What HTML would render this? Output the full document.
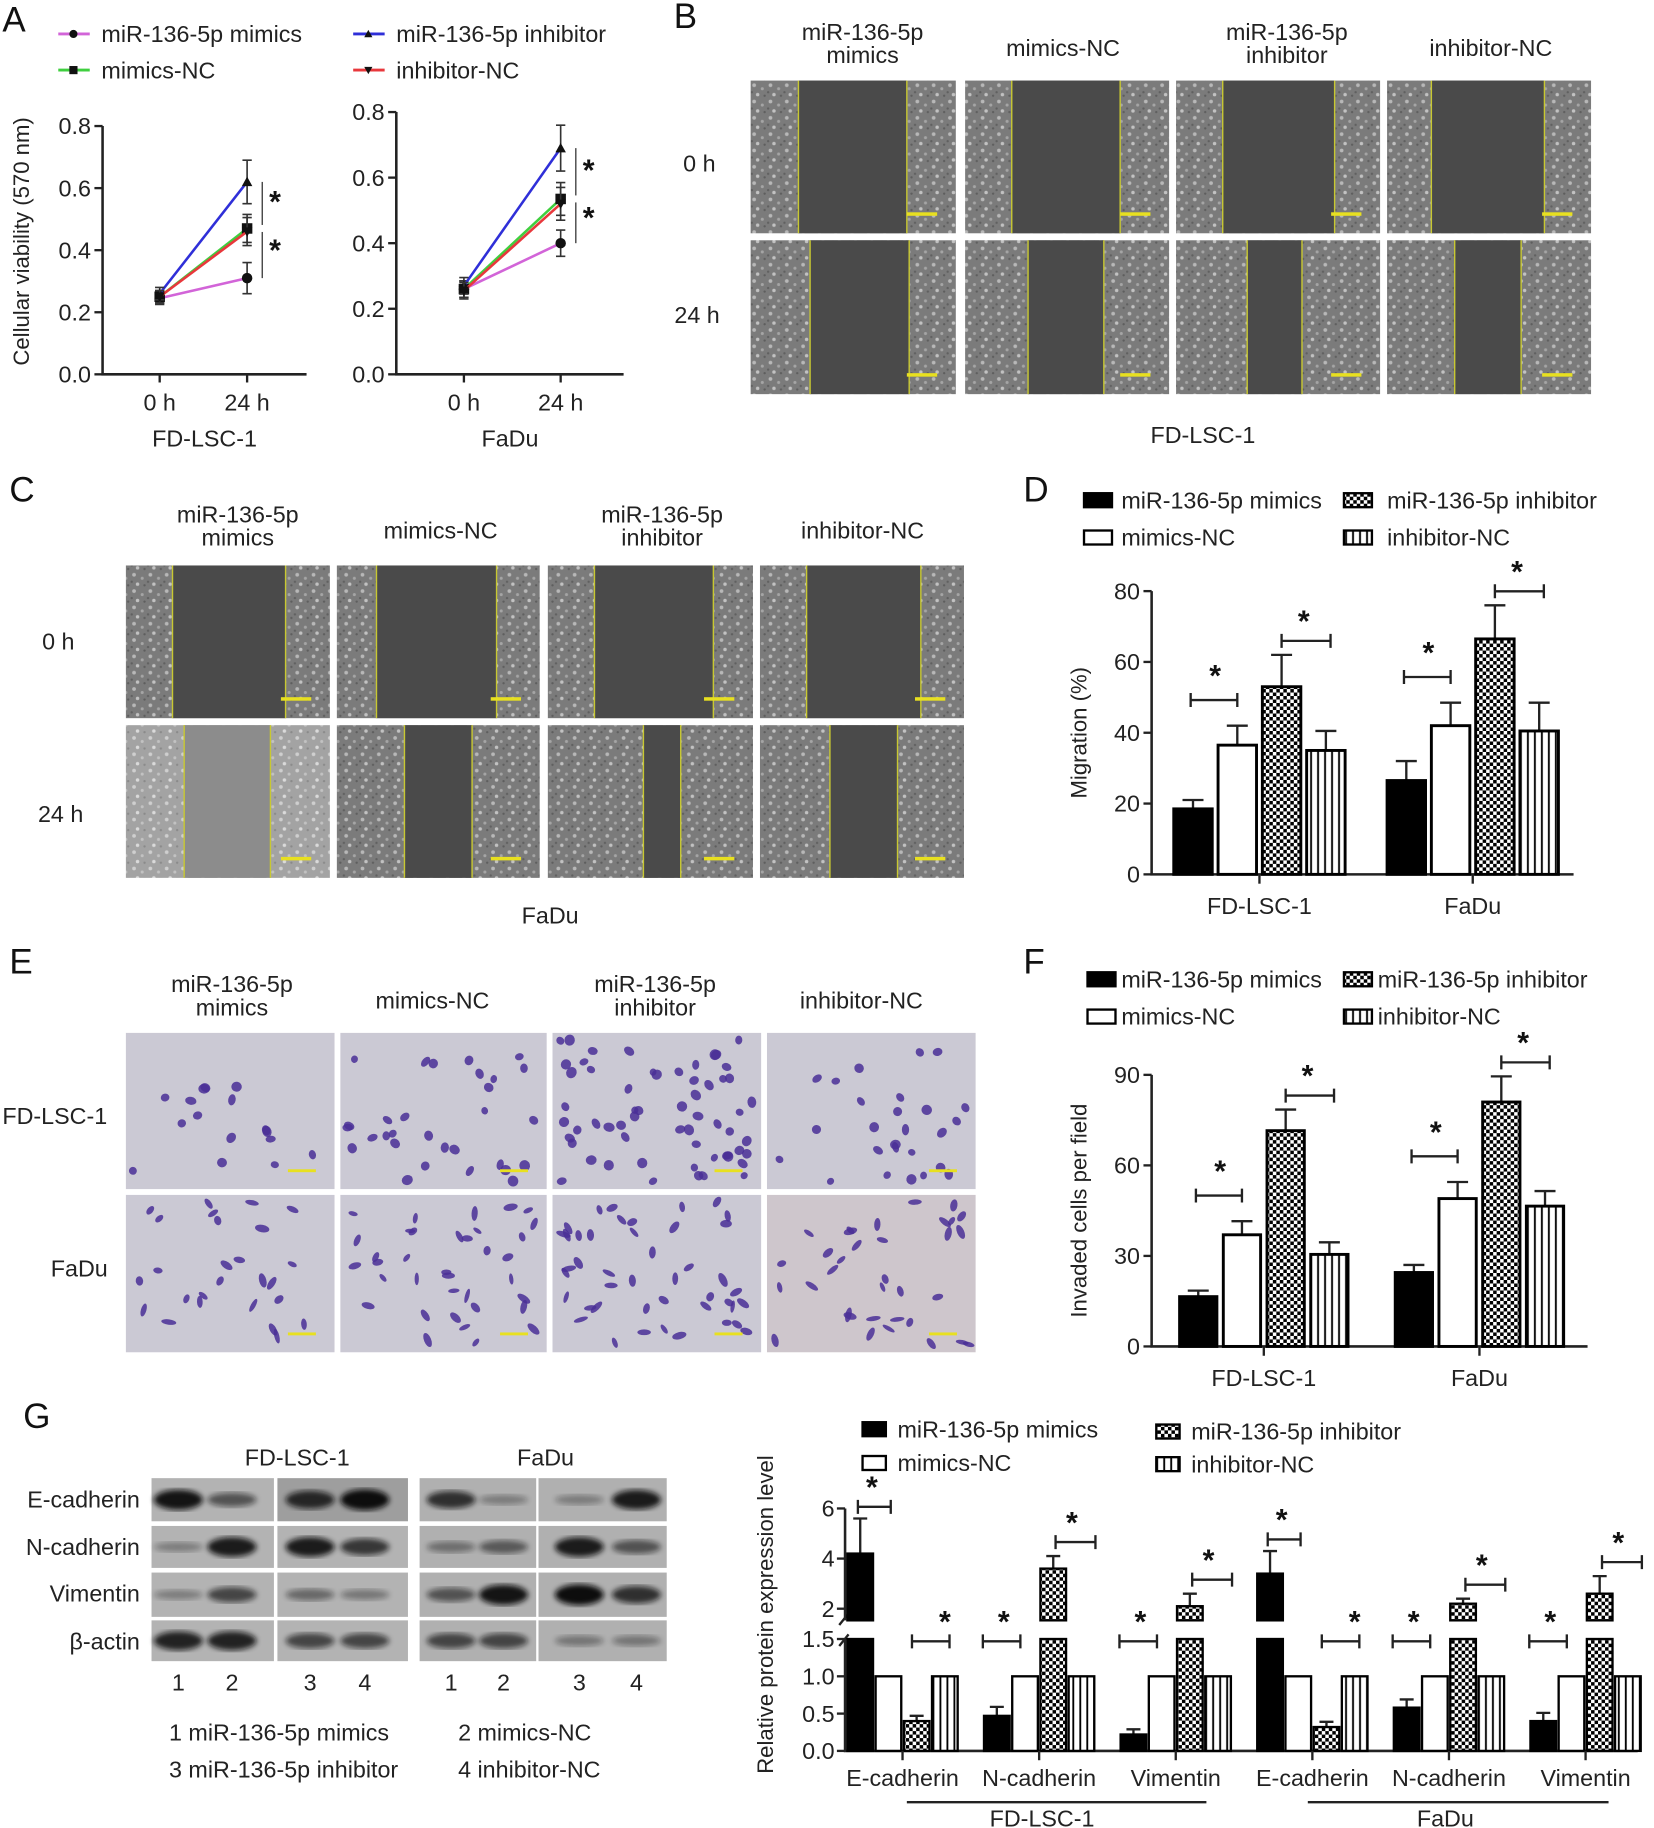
<!DOCTYPE html>
<html><head><meta charset="utf-8">
<style>
html,body{margin:0;padding:0;background:#fff;}
svg{display:block;font-family:"Liberation Sans",Arial,sans-serif;}
</style></head>
<body>
<svg id="fig" xmlns="http://www.w3.org/2000/svg" width="1654" height="1828" viewBox="0 0 1419 1568">
<defs>
  <pattern id="checker" width="6" height="6" patternUnits="userSpaceOnUse">
    <rect width="6" height="6" fill="#fff"/><rect width="3" height="3" fill="#000"/><rect x="3" y="3" width="3" height="3" fill="#000"/>
  </pattern>
  <pattern id="vstripe" width="6" height="6" patternUnits="userSpaceOnUse">
    <rect width="6" height="6" fill="#fff"/><rect x="2" width="1.6" height="6" fill="#000"/>
  </pattern>
  <pattern id="speckle" width="14" height="14" patternUnits="userSpaceOnUse">
    <rect width="14" height="14" fill="#7b7b7b"/>
    <circle cx="3" cy="3" r="1.6" fill="#b8b8b8"/><circle cx="10" cy="6" r="1.3" fill="#a5a5a5"/>
    <circle cx="6" cy="11" r="1.5" fill="#c2c2c2"/><circle cx="12" cy="12" r="1" fill="#5e5e5e"/>
    <circle cx="1" cy="9" r="1" fill="#606060"/>
  </pattern>
  <pattern id="speckleLight" width="14" height="14" patternUnits="userSpaceOnUse">
    <rect width="14" height="14" fill="#a3a3a3"/>
    <circle cx="3" cy="3" r="1.6" fill="#cfcfcf"/><circle cx="10" cy="6" r="1.3" fill="#c2c2c2"/>
    <circle cx="6" cy="11" r="1.5" fill="#dadada"/><circle cx="12" cy="12" r="1" fill="#8a8a8a"/>
  </pattern>
  <filter id="blur2"><feGaussianBlur stdDeviation="2.2"/></filter>
</defs>
<g id="root"></g>
</svg>
<script>
// ---------- Chart data ----------
// Panel A (CCK-8 viability)
const timeCats = ['0 h', '24 h'];
const aTicks = [0.0, 0.2, 0.4, 0.6, 0.8];
const aSeriesNames = ['miR-136-5p mimics', 'mimics-NC', 'miR-136-5p inhibitor', 'inhibitor-NC'];
const fdMimics = [0.245, 0.31];
const fdMimicsNC = [0.25, 0.47];
const fdInhibitor = [0.26, 0.62];
const fdInhibitorNC = [0.25, 0.46];
const fdErr = [[0.02, 0.05], [0.02, 0.045], [0.02, 0.07], [0.02, 0.045]];
const faMimics = [0.26, 0.40];
const faMimicsNC = [0.26, 0.535];
const faInhibitor = [0.27, 0.69];
const faInhibitorNC = [0.255, 0.52];
const faErr = [[0.025, 0.04], [0.025, 0.05], [0.025, 0.07], [0.025, 0.05]];
// Panel D (migration %)
const cellCats = ['FD-LSC-1', 'FaDu'];
const dTicks = [0, 20, 40, 60, 80];
const dMimics = [18.5, 26.5];
const dMimicsNC = [36.5, 42];
const dInhibitor = [53, 66.5];
const dInhibitorNC = [35, 40.5];
const dErr = [[2.5, 5.5], [5.5, 6.5], [9, 9.5], [5.5, 8]];
// Panel F (invaded cells)
const fTicks = [0, 30, 60, 90];
const fMimics = [16.5, 24.5];
const fMimicsNC = [37, 49];
const fInhibitor = [71.5, 81];
const fInhibitorNC = [30.5, 46.5];
const fErr = [[2, 2.5], [4.5, 5.5], [7, 8.5], [4, 5]];
// Panel G (protein expression)
const gCats = ['E-cadherin', 'N-cadherin', 'Vimentin', 'E-cadherin', 'N-cadherin', 'Vimentin'];
const gTicksLow = [0.0, 0.5, 1.0, 1.5];
const gTicksHigh = [2, 4, 6];
const gMimics = [4.2, 0.47, 0.22, 3.4, 0.58, 0.4];
const gMimicsNC = [1, 1, 1, 1, 1, 1];
const gInhibitor = [0.4, 3.6, 2.1, 0.32, 2.2, 2.6];
const gInhibitorNC = [1, 1, 1, 1, 1, 1];
const gErrM = [1.4, 0.12, 0.07, 0.9, 0.11, 0.11];
const gErrI = [0.07, 0.5, 0.5, 0.07, 0.2, 0.7];

const NS = 'http://www.w3.org/2000/svg';
const root = document.getElementById('root');
function mk(tag, attrs, parent, text) {
  const e = document.createElementNS(NS, tag);
  for (const k in attrs) e.setAttribute(k, attrs[k]);
  if (text !== undefined) e.textContent = text;
  (parent || root).appendChild(e);
  return e;
}
function txt(x, y, s, size, anchor, parent, extra) {
  const a = Object.assign({x: x, y: y, 'font-size': size, 'text-anchor': anchor || 'middle', fill: '#222'}, extra || {});
  return mk('text', a, parent, s);
}
function star(x, y, g) {
  const s = txt(x, y + 10, '*', 26, 'middle', g, {'font-weight': 'bold', fill: '#111'});
  
  
}
function hbracket(x1, x2, y, g) {
  const b = mk('path', {d: `M${x1},${y-6}V${y+6}M${x1},${y}H${x2}M${x2},${y-6}V${y+6}`, stroke: '#222', 'stroke-width': 2, fill: 'none'}, g);
  
  
}
function panelLetter(x, y, s) {
  const t = txt(x, y, s, 30, 'start', root, {fill: '#111'});
  
  
}

// ---------- Panel A ----------
panelLetter(2, 27, 'A');
const aColors = ['#d264d8', '#3fcf3f', '#2f2fd8', '#e8383c'];
const aMarkers = ['circle', 'square', 'tri', 'itri'];
function marker(kind, x, y, r, g) {
  let m;
  if (kind === 'circle') m = mk('circle', {cx: x, cy: y, r: r, fill: '#111'}, g);
  else if (kind === 'square') m = mk('rect', {x: x - r, y: y - r, width: 2 * r, height: 2 * r, fill: '#111'}, g);
  else if (kind === 'tri') m = mk('path', {d: `M${x},${y-r}L${x+r},${y+r*0.8}L${x-r},${y+r*0.8}Z`, fill: '#111'}, g);
  else m = mk('path', {d: `M${x},${y+r}L${x+r},${y-r*0.8}L${x-r},${y-r*0.8}Z`, fill: '#111'}, g);
  
  
}
const legA = mk('g', {});


[[50, 29], [50, 60], [303, 29], [303, 60]].forEach((p, i) => {
  const g = mk('g', {}, legA);
  
  
  mk('line', {x1: p[0], y1: p[1], x2: p[0] + 27, y2: p[1], stroke: aColors[i], 'stroke-width': 2.5}, g);
  marker(aMarkers[i], p[0] + 13, p[1], 3.5, g);
  txt(p[0] + 37, p[1] + 7, aSeriesNames[i], 20, 'start', g);
});

function lineChart(cfg) {
  const g = mk('g', {});
  
  
  const y = v => cfg.y0 - v / 0.8 * (cfg.y0 - cfg.yTop);
  const xs = [cfg.x0h, cfg.x24];
  const ax = mk('path', {d: `M${cfg.ax},${cfg.yTop}V${cfg.y0}H${cfg.axEnd}`, stroke: '#222', 'stroke-width': 2.2, fill: 'none'}, g);
  
  
  aTicks.forEach(t => {
    mk('line', {x1: cfg.ax - 7, x2: cfg.ax, y1: y(t), y2: y(t), stroke: '#222', 'stroke-width': 2}, g);
    const l = txt(cfg.ax - 10, y(t) + 7, t.toFixed(1), 20, 'end', g);
    
    
  });
  timeCats.forEach((c, i) => {
    mk('line', {x1: xs[i], x2: xs[i], y1: cfg.y0, y2: cfg.y0 + 7, stroke: '#222', 'stroke-width': 2}, g);
    const l = txt(xs[i], cfg.y0 + 31, c, 20, 'middle', g);
    
    
  });
  const title = txt((cfg.ax + cfg.axEnd) / 2, cfg.y0 + 62, cfg.title, 20, 'middle', g);
  
  
  cfg.series.forEach((s, si) => {
    const ln = mk('polyline', {points: s.map((v, i) => xs[i] + ',' + y(v)).join(' '), stroke: aColors[si], 'stroke-width': 2.2, fill: 'none'}, g);
    
    
    s.forEach((v, i) => {
      const e = cfg.err[si][i];
      const eb = mk('path', {d: `M${xs[i]},${y(v - e)}V${y(v + e)}M${xs[i]-4},${y(v+e)}H${xs[i]+4}M${xs[i]-4},${y(v-e)}H${xs[i]+4}`, stroke: '#333', 'stroke-width': 1.4, fill: 'none'}, g);
      
      
      marker(aMarkers[si], xs[i], y(v), 4.5, g);
    });
  });
  const top = cfg.series[2][1], mid = cfg.series[1][1], low = cfg.series[0][1];
  const sx = cfg.x24 + 13;
  mk('line', {x1: sx, x2: sx, y1: y(top), y2: y(mid) - 3, stroke: '#444', 'stroke-width': 1.2}, g);
  mk('line', {x1: sx, x2: sx, y1: y(mid) + 3, y2: y(low), stroke: '#444', 'stroke-width': 1.2}, g);
  star(sx + 11, (y(top) + y(mid)) / 2 - 4, g);
  star(sx + 11, (y(mid) + y(low)) / 2 - 4, g);
  return g;
}
lineChart({name: 'chart-a-fd-lsc-1', ax: 88, axEnd: 263, yTop: 108, y0: 321, x0h: 137, x24: 212, title: 'FD-LSC-1',
  series: [fdMimics, fdMimicsNC, fdInhibitor, fdInhibitorNC], err: fdErr});
lineChart({name: 'chart-a-fadu', ax: 340, axEnd: 535, yTop: 96, y0: 321, x0h: 398, x24: 481, title: 'FaDu',
  series: [faMimics, faMimicsNC, faInhibitor, faInhibitorNC], err: faErr});
const aYT = txt(0, 0, 'Cellular viability (570 nm)', 19, 'middle', root, {transform: 'translate(25,207) rotate(-90)'});



// ---------- photo helpers ----------
function scratch(x, y, w, h, gL, gR, opts) {
  const g = mk('g', {});
  
  
  mk('rect', {x: x, y: y, width: w, height: h, fill: opts.light ? 'url(#speckleLight)' : 'url(#speckle)'}, g);
  mk('rect', {x: gL, y: y, width: gR - gL, height: h, fill: opts.gap || '#4a4a4a'}, g);
  mk('line', {x1: gL, x2: gL, y1: y, y2: y + h, stroke: '#c8c832', 'stroke-width': 1.2}, g);
  mk('line', {x1: gR, x2: gR, y1: y, y2: y + h, stroke: '#c8c832', 'stroke-width': 1.2}, g);
  mk('rect', {x: x + w - 42, y: y + h - 18, width: 26, height: 3, fill: '#e8e020'}, g);
}
function colHeads(cols, y1, y2) {
  const heads = [['miR-136-5p', 'mimics'], ['mimics-NC'], ['miR-136-5p', 'inhibitor'], ['inhibitor-NC']];
  cols.forEach((c, i) => {
    const h = heads[i];
    if (h.length === 2) {
      txt(c, y1, h[0], 20, 'middle');
      const t = txt(c, y2, h[1], 20, 'middle');
      
      
    } else {
      const t = txt(c, (y1 + y2) / 2 + 4, h[0], 20, 'middle');
      
      
    }
  });
}

// ---------- Panel B ----------
panelLetter(578, 24, 'B');
colHeads([740, 912, 1104, 1279], 34, 54);
const bCols = [[644, 176], [828, 175], [1009, 175], [1190, 175]];
const b0 = [[685, 778], [868, 961], [1049, 1145], [1228, 1325]];
const b24 = [[695, 780], [882, 947], [1070, 1117], [1248, 1305]];
bCols.forEach((c, i) => { scratch(c[0], 69, c[1], 131, b0[i][0], b0[i][1], {}); scratch(c[0], 206, c[1], 132, b24[i][0], b24[i][1], {}); });
txt(600, 147, '0 h', 20, 'middle');
txt(598, 277, '24 h', 20, 'middle');
txt(1032, 380, 'FD-LSC-1', 20, 'middle');

// ---------- Panel C ----------
panelLetter(8, 430, 'C');
colHeads([204, 378, 568, 740], 448, 468);
const cCols = [[108, 175], [289, 174], [470, 176], [652, 175]];
const c0 = [[148, 245], [323, 426], [510, 612], [692, 790]];
const c24 = [[158, 232], [347, 405], [552, 584], [712, 770]];
cCols.forEach((c, i) => {
  scratch(c[0], 485, c[1], 131, c0[i][0], c0[i][1], {});
  scratch(c[0], 622, c[1], 131, c24[i][0], c24[i][1], i === 0 ? {light: true, gap: '#8c8c8c'} : {});
});
txt(50, 557, '0 h', 20, 'middle');
txt(52, 705, '24 h', 20, 'middle');
txt(472, 792, 'FaDu', 20, 'middle');

// ---------- Panel E (transwell) ----------
panelLetter(8, 835, 'E');
colHeads([199, 371, 562, 739], 851, 871);
let seed = 7;
function rnd() { seed = (seed * 16807) % 2147483647; return seed / 2147483647; }
const eCols = [[108, 179], [292, 177], [474, 179], [658, 179]];
const eCounts = [[16, 26], [30, 36], [60, 44], [26, 34]];
[[886, 134], [1025, 135]].forEach((r, ri) => {
  eCols.forEach((c, ci) => {
    const g = mk('g', {});
    
    
    mk('rect', {x: c[0], y: r[0], width: c[1], height: r[1], fill: ci === 3 && ri === 1 ? '#cec6cc' : '#cbc9d4'}, g);
    for (let k = 0; k < eCounts[ci][ri]; k++) {
      const cx = c[0] + 6 + rnd() * (c[1] - 12), cy = r[0] + 6 + rnd() * (r[1] - 12);
      const rx = ri ? 1.8 + rnd() * 1.5 : 2.8 + rnd() * 2, ry = ri ? 4 + rnd() * 2.5 : 3 + rnd() * 2;
      mk('ellipse', {cx: cx, cy: cy, rx: rx, ry: ry, fill: '#4a2f96', opacity: 0.85, transform: `rotate(${rnd() * 180} ${cx} ${cy})`}, g);
    }
    mk('rect', {x: c[0] + c[1] - 40, y: r[0] + r[1] - 17, width: 24, height: 2.5, fill: '#e8e020'}, g);
  });
});
txt(47, 964, 'FD-LSC-1', 20, 'middle');
txt(68, 1095, 'FaDu', 20, 'middle');

// ---------- Bar charts D & F ----------
const barFills = ['#000', '#fff', 'url(#checker)', 'url(#vstripe)'];
function barLegend(items, name) {
  const g = mk('g', {});
  
  
  items.forEach((it, i) => {
    const e = mk('g', {}, g);
    
    
    mk('rect', {x: it[0], y: it[1] - 6, width: it[4] || 24, height: 12, fill: barFills[i], stroke: '#000', 'stroke-width': 2}, e);
    txt(it[2], it[1] + 7, aSeriesNames[i], it[3] || 20, 'start', e);
  });
}
function barChart(cfg) {
  const g = mk('g', {});
  
  
  const y = v => cfg.y0 - v / cfg.max * (cfg.y0 - cfg.yTop);
  const ax = mk('path', {d: `M${cfg.ax},${cfg.yTop}V${cfg.y0}H${cfg.axEnd}`, stroke: '#222', 'stroke-width': 2.2, fill: 'none'}, g);
  
  
  cfg.ticks.forEach(t => {
    mk('line', {x1: cfg.ax - 7, x2: cfg.ax, y1: y(t), y2: y(t), stroke: '#222', 'stroke-width': 2}, g);
    const l = txt(cfg.ax - 10, y(t) + 7, String(t), 20, 'end', g);
    
    
  });
  const yt = txt(0, 0, cfg.ytitle, 19, 'middle', g, {transform: `translate(${cfg.ytx},${(cfg.y0 + cfg.yTop) / 2}) rotate(-90)`});
  
  
  cellCats.forEach((c, gi) => {
    const sx = cfg.starts[gi];
    const centers = [];
    cfg.series.forEach((s, si) => {
      const bx = sx + si * cfg.step, v = s[gi], e = cfg.err[si][gi];
      centers.push(bx + cfg.bw / 2);
      const eb = mk('path', {d: `M${bx + cfg.bw/2},${y(v)}V${y(v + e)}M${bx + cfg.bw/2 - 9},${y(v+e)}H${bx + cfg.bw/2 + 9}`, stroke: '#222', 'stroke-width': 2, fill: 'none'}, g);
      
      
      const b = mk('rect', {x: bx, y: y(v), width: cfg.bw, height: cfg.y0 - y(v), fill: barFills[si], stroke: '#000', 'stroke-width': 2.5}, g);
      
      
    });
    const mid = (centers[1] + centers[2]) / 2;
    mk('line', {x1: mid, x2: mid, y1: cfg.y0, y2: cfg.y0 + 8, stroke: '#222', 'stroke-width': 2}, g);
    const l = txt(mid, cfg.y0 + 34, c, 20, 'middle', g);
    
    
    const t1 = Math.max(cfg.series[0][gi] + cfg.err[0][gi], cfg.series[1][gi] + cfg.err[1][gi]);
    const by1 = y(t1) - 22;
    hbracket(centers[0] - 2, centers[1], by1, g); star((centers[0] + centers[1]) / 2, by1 - 22, g);
    const t2 = Math.max(cfg.series[2][gi] + cfg.err[2][gi], cfg.series[3][gi] + cfg.err[3][gi]);
    const by2 = y(t2) - 12;
    hbracket(centers[2], centers[3] + 4, by2, g); star((centers[2] + centers[3]) / 2, by2 - 18, g);
  });
}
panelLetter(878, 430, 'D');
barLegend([[930, 429, 962], [930, 461, 962], [1153, 429, 1190], [1153, 461, 1190]], 'legend-d');
barChart({name: 'chart-d-migration', ax: 988, axEnd: 1350, yTop: 507, y0: 750, max: 80, ticks: dTicks, ytitle: 'Migration (%)', ytx: 932,
  starts: [1007, 1190], step: 38, bw: 33, series: [dMimics, dMimicsNC, dInhibitor, dInhibitorNC], err: dErr});
panelLetter(878, 835, 'F');
barLegend([[933, 840, 962], [933, 872, 962], [1153, 840, 1182], [1153, 872, 1182]], 'legend-f');
barChart({name: 'chart-f-invasion', ax: 988, axEnd: 1362, yTop: 922, y0: 1155, max: 90, ticks: fTicks, ytitle: 'Invaded cells per field', ytx: 932,
  starts: [1012, 1197], step: 37.5, bw: 32, series: [fMimics, fMimicsNC, fInhibitor, fInhibitorNC], err: fErr});

// ---------- Panel G blots ----------
panelLetter(20, 1225, 'G');
txt(255, 1257, 'FD-LSC-1', 20, 'middle');
txt(468, 1257, 'FaDu', 20, 'middle');
const blotRows = ['E-cadherin', 'N-cadherin', 'Vimentin', 'β-actin'];
const blotRowY = [[1268, 37], [1309, 36], [1349, 38], [1390, 35]];
const laneX = [153, 199, 266, 313, 387, 432, 497, 546];
const bandInt = [
  [0.95, 0.5, 0.8, 1.0, 0.75, 0.2, 0.2, 0.9],
  [0.2, 0.9, 0.9, 0.7, 0.3, 0.45, 0.9, 0.5],
  [0.2, 0.6, 0.35, 0.25, 0.5, 0.95, 1.0, 0.75],
  [0.85, 0.85, 0.6, 0.6, 0.6, 0.6, 0.25, 0.25]];
const blotBoxes = [[130, 105], [238, 112], [360, 100], [462, 110]];
blotRows.forEach((r, ri) => {
  const l = txt(120, blotRowY[ri][0] + 25, r, 20, 'end');
  
  
  blotBoxes.forEach((b, bi) => {
    const bg = mk('rect', {x: b[0], y: blotRowY[ri][0], width: b[1], height: blotRowY[ri][1], fill: (ri === 0 && bi === 1) ? '#9e9e9e' : (bi < 2 ? '#b3b3b3' : '#b0b0b0')});
    
    
  });
  laneX.forEach((lx, li) => {
    const v = bandInt[ri][li];
    const b = mk('ellipse', {cx: lx, cy: blotRowY[ri][0] + blotRowY[ri][1] / 2, rx: 21, ry: 3 + v * 6, fill: '#111', opacity: 0.15 + v * 0.85, filter: 'url(#blur2)'});
    
    
  });
});
['1', '2', '3', '4', '1', '2', '3', '4'].forEach((n, i) => txt(laneX[i], 1450, n, 20, 'middle'));
txt(145, 1493, '1 miR-136-5p mimics', 20, 'start');
txt(393, 1493, '2 mimics-NC', 20, 'start');
txt(145, 1525, '3 miR-136-5p inhibitor', 20, 'start');
txt(393, 1525, '4 inhibitor-NC', 20, 'start');

// ---------- Panel G chart (broken axis) ----------
barLegend([[740, 1226, 770, 20, 20], [740, 1255, 770, 20, 20], [992, 1228, 1022, 20, 20], [992, 1256, 1022, 20, 20]], 'legend-g');
(function () {
  const g = mk('g', {});
  
  
  const ax = 725, y0 = 1502, lowTop = 1406, hiBot = 1390, hiTop = 1294;
  const yl = v => y0 - v * 64;
  const yh = v => 1380 - (v - 2) * 21.5;
  const yv = v => v <= 1.5 ? yl(v) : yh(v);
  const axis = mk('path', {d: `M${ax},${lowTop}V${y0}H1405M${ax},${hiTop}V${hiBot}`, stroke: '#222', 'stroke-width': 2.2, fill: 'none'}, g);
  
  
  mk('path', {d: `M${ax-5},${hiBot+4}L${ax+3},${hiBot-6}M${ax-5},${lowTop+6}L${ax+3},${lowTop-4}`, stroke: '#222', 'stroke-width': 2}, g);
  gTicksLow.forEach(t => { mk('line', {x1: ax - 7, x2: ax, y1: yl(t), y2: yl(t), stroke: '#222', 'stroke-width': 2}, g);
    const l = txt(ax - 9, yl(t) + 7, t.toFixed(1), 20, 'end', g);
    
     });
  gTicksHigh.forEach(t => { mk('line', {x1: ax - 7, x2: ax, y1: yh(t), y2: yh(t), stroke: '#222', 'stroke-width': 2}, g);
    const l = txt(ax - 9, yh(t) + 7, String(t), 20, 'end', g);
    
     });
  const yt = txt(0, 0, 'Relative protein expression level', 19, 'middle', g, {transform: 'translate(663,1385) rotate(-90)'});
  
  
  const series = [gMimics, gMimicsNC, gInhibitor, gInhibitorNC];
  const errs = [gErrM, null, gErrI, null];
  gCats.forEach((c, gi) => {
    const sx = 727 + gi * 117.2, centers = [];
    series.forEach((s, si) => {
      const bx = sx + si * 24.2, bw = 22, v = s[gi];
      centers.push(bx + bw / 2);
      if (errs[si]) {
        const e = errs[si][gi];
        const eb = mk('path', {d: `M${bx+bw/2},${yv(v)}V${yv(v+e)}M${bx+bw/2-6},${yv(v+e)}H${bx+bw/2+6}`, stroke: '#222', 'stroke-width': 2, fill: 'none'}, g);
        
        
      }
      if (v <= 1.5) {
        const b = mk('rect', {x: bx, y: yl(v), width: bw, height: y0 - yl(v), fill: barFills[si], stroke: '#000', 'stroke-width': 2}, g);
        
        
      } else {
        const b = mk('rect', {x: bx, y: lowTop, width: bw, height: y0 - lowTop, fill: barFills[si], stroke: '#000', 'stroke-width': 2}, g);
        
        
        const b2 = mk('rect', {x: bx, y: yh(v), width: bw, height: hiBot - yh(v), fill: barFills[si], stroke: '#000', 'stroke-width': 2}, g);
        
        
      }
    });
    const mid = (centers[1] + centers[2]) / 2;
    mk('line', {x1: mid, x2: mid, y1: y0, y2: y0 + 8, stroke: '#222', 'stroke-width': 2}, g);
    const l = txt(mid, 1532, c, 20, 'middle', g);
    
    
    const mi = gMimics[gi], inh = gInhibitor[gi];
    if (mi > 1.5) { const by = yv(mi + gErrM[gi]) - 10; hbracket(centers[0] - 2, centers[1] + 2, by, g); star(centers[0] + 10, by - 18, g); }
    else { const by = yl(1) - 30; hbracket(centers[0] - 12, centers[1] - 4, by, g); star(centers[0] + 6, by - 18, g); }
    if (inh > 1.5) { const by = yv(inh + gErrI[gi]) - 12; hbracket(centers[2] + 2, centers[3] + 12, by, g); star(centers[2] + 16, by - 18, g); }
    else { const by = yl(1) - 30; hbracket(centers[2] - 4, centers[3] + 4, by, g); star(centers[3], by - 18, g); }
  });
  mk('line', {x1: 778, x2: 1035, y1: 1546, y2: 1546, stroke: '#222', 'stroke-width': 2}, g);
  mk('line', {x1: 1122, x2: 1380, y1: 1546, y2: 1546, stroke: '#222', 'stroke-width': 2}, g);
  txt(894, 1567, 'FD-LSC-1', 20, 'middle', g);
  txt(1240, 1567, 'FaDu', 20, 'middle', g);
})();
</script>
</body></html>
